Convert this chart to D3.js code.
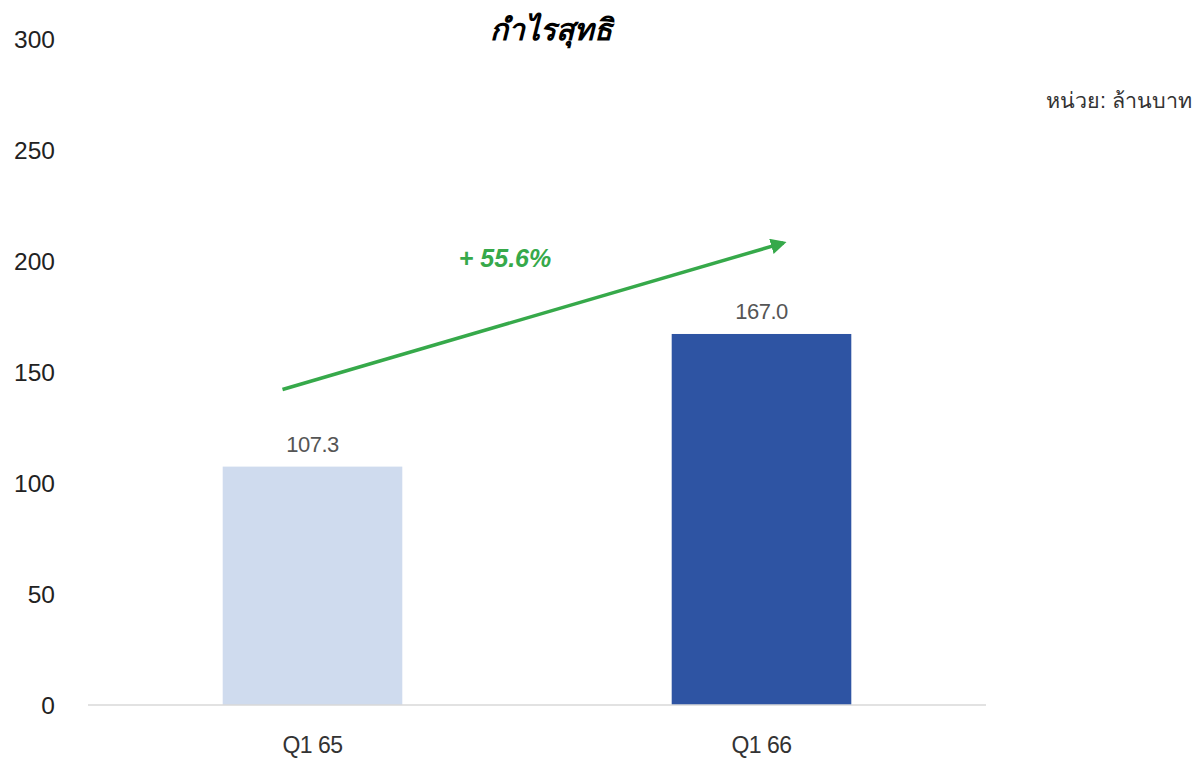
<!DOCTYPE html>
<html>
<head>
<meta charset="utf-8">
<script src="https://cdn.jsdelivr.net/npm/d3@7"></script>
<style>
  body { margin: 0; background: #fff; }
  svg text { font-family: "Liberation Sans", Arial, "Noto Sans", sans-serif; }
</style>
</head>
<body>
<div id="content"></div>
<script>
// chart data
const categories = ["Q1 65", "Q1 66"];
const values = [107.3, 167.0];
const barColors = ["#cfdbee", "#2e54a3"];
const yTicks = [0, 50, 100, 150, 200, 250, 300];
const growthLabel = "+ 55.6%";
const arrowFromTo = [142, 208]; // arrow start / end in data units

const W = 1204, H = 758;

const svg = d3.select("#content").append("svg")
    .attr("width", W)
    .attr("height", H);

const x = d3.scaleBand()
    .domain(categories)
    .range([88, 986])
    .paddingInner(0.6)
    .paddingOuter(0.3);

const y = d3.scaleLinear()
    .domain([0, 300])
    .range([705, 38.5]);

// title
svg.append("text")
    .attr("x", 551).attr("y", 40)
    .attr("text-anchor", "middle")
    .style("font-size", "30px")
    .style("font-weight", "bold")
    .style("font-style", "italic")
    .style("fill", "#000")
    .text("กำไรสุทธิ");

// unit
svg.append("text")
    .attr("x", 1192).attr("y", 108)
    .attr("text-anchor", "end")
    .style("font-size", "21.5px")
    .style("fill", "#333")
    .text("หน่วย: ล้านบาท");

// y axis labels only
svg.selectAll("text.ytick")
    .data(yTicks)
    .enter().append("text")
    .attr("class", "ytick")
    .attr("x", 55)
    .attr("y", d => y(d) + 9)
    .attr("text-anchor", "end")
    .style("font-size", "24.5px")
    .style("fill", "#222")
    .text(d => d);

// bars
svg.selectAll("rect.bar")
    .data(values)
    .enter().append("rect")
    .attr("class", "bar")
    .attr("x", (d, i) => x(categories[i]))
    .attr("y", d => y(d))
    .attr("width", x.bandwidth())
    .attr("height", d => y(0) - y(d))
    .style("fill", (d, i) => barColors[i]);

// value labels
svg.selectAll("text.val")
    .data(values)
    .enter().append("text")
    .attr("class", "val")
    .attr("x", (d, i) => x(categories[i]) + x.bandwidth() / 2)
    .attr("y", d => y(d) - 15)
    .attr("text-anchor", "middle")
    .style("font-size", "22px")
    .style("fill", "#555")
    .style("letter-spacing", "-0.5px")
    .text(d => d.toFixed(1));

// baseline
svg.append("line")
    .attr("x1", 88).attr("x2", 986)
    .attr("y1", y(0)).attr("y2", y(0))
    .style("stroke", "#d9d9d9")
    .style("stroke-width", 1.5);

// category labels
svg.selectAll("text.cat")
    .data(categories)
    .enter().append("text")
    .attr("class", "cat")
    .attr("x", d => x(d) + x.bandwidth() / 2)
    .attr("y", 753)
    .attr("text-anchor", "middle")
    .style("font-size", "23px")
    .style("fill", "#333")
    .style("letter-spacing", "-0.5px")
    .text(d => d);

// growth arrow
const green = "#36a94a";
svg.append("defs").append("marker")
    .attr("id", "arr")
    .attr("viewBox", "0 0 10 10")
    .attr("refX", 8).attr("refY", 5)
    .attr("markerWidth", 4.5).attr("markerHeight", 4.5)
    .attr("orient", "auto")
    .append("path")
    .attr("d", "M0,0 L10,5 L0,10 z")
    .style("fill", green);

const c0 = x(categories[0]) + x.bandwidth() / 2;
const c1 = x(categories[1]) + x.bandwidth() / 2;
svg.append("line")
    .attr("x1", c0 - 30).attr("y1", y(arrowFromTo[0]))
    .attr("x2", c1 + 22).attr("y2", y(arrowFromTo[1]))
    .style("stroke", green)
    .style("stroke-width", 3.5)
    .attr("marker-end", "url(#arr)");

svg.append("text")
    .attr("x", 505).attr("y", 267)
    .attr("text-anchor", "middle")
    .style("font-size", "25px")
    .style("font-weight", "bold")
    .style("font-style", "italic")
    .style("fill", green)
    .text(growthLabel);
</script>
</body>
</html>
